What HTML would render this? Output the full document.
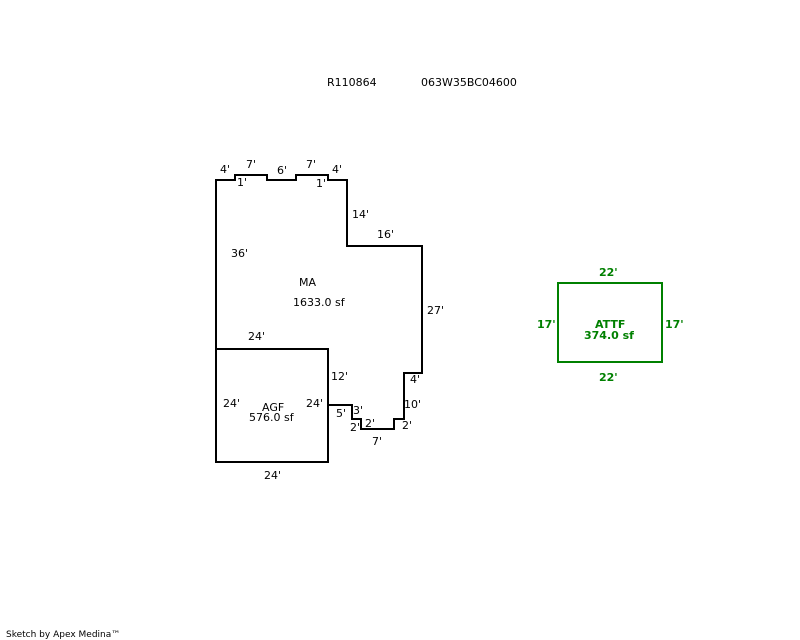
<!DOCTYPE html>
<html><head><meta charset="utf-8"><style>
html,body{margin:0;padding:0;background:#fff;width:800px;height:640px;overflow:hidden}
svg text{font-family:"DejaVu Sans","Liberation Sans",sans-serif;font-size:11px;fill:#000}
</style></head><body>
<svg width="800" height="640" xmlns="http://www.w3.org/2000/svg">
<g fill="none" stroke="#000" stroke-width="2">
<polyline points="216,349 216,180 235,180 235,175 267,175 267,180 296,180 296,175 328,175 328,180 347,180 347,246 422,246 422,373 404,373 404,419 394,419 394,429 361,429 361,419 352,419 352,405 328,405"/>
<rect x="216" y="349" width="112" height="113"/>
</g>
<rect x="558" y="283" width="104" height="79" fill="none" stroke="#008000" stroke-width="2"/>
<text x="327" y="86">R110864</text>
<text x="421" y="86">063W35BC04600</text>
<text x="220" y="173">4'</text>
<text x="246" y="168">7'</text>
<text x="277" y="174">6'</text>
<text x="306" y="168">7'</text>
<text x="332" y="173">4'</text>
<text x="237" y="186">1'</text>
<text x="316" y="187">1'</text>
<text x="352" y="218">14'</text>
<text x="377" y="238">16'</text>
<text x="231" y="257">36'</text>
<text x="299" y="286">MA</text>
<text x="293" y="306">1633.0 sf</text>
<text x="427" y="314">27'</text>
<text x="248" y="340">24'</text>
<text x="331" y="380">12'</text>
<text x="410" y="383">4'</text>
<text x="223" y="407">24'</text>
<text x="262" y="411">AGF</text>
<text x="249" y="421">576.0 sf</text>
<text x="306" y="407">24'</text>
<text x="404" y="408">10'</text>
<text x="336" y="417">5'</text>
<text x="353" y="414">3'</text>
<text x="350" y="431">2'</text>
<text x="365" y="427">2'</text>
<text x="402" y="429">2'</text>
<text x="372" y="445">7'</text>
<text x="264" y="479">24'</text>
<g style="font-weight:bold">
<text x="599" y="276" style="fill:#008000;font-weight:bold">22'</text>
<text x="537" y="328" style="fill:#008000;font-weight:bold">17'</text>
<text x="665" y="328" style="fill:#008000;font-weight:bold">17'</text>
<text x="595" y="328" style="fill:#008000;font-weight:bold">ATTF</text>
<text x="584" y="339" style="fill:#008000;font-weight:bold">374.0 sf</text>
<text x="599" y="381" style="fill:#008000;font-weight:bold">22'</text>
</g>
<text x="6" y="637" style="font-size:9px">Sketch by Apex Medina™</text>
</svg>
</body></html>
